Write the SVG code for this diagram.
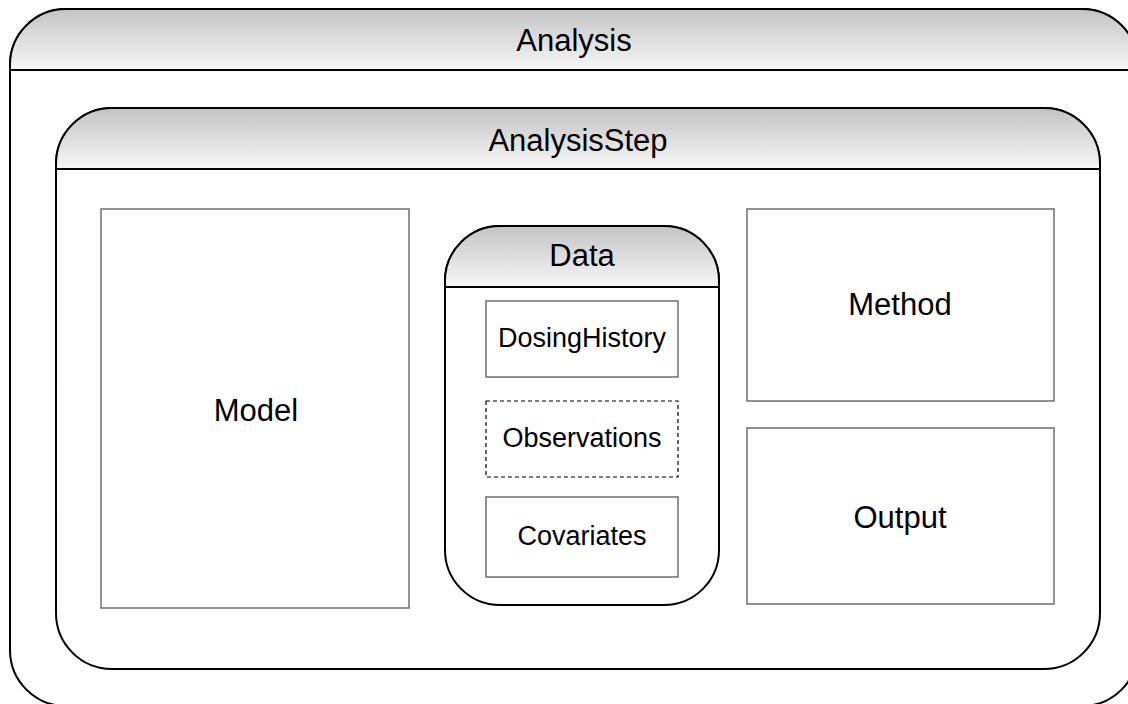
<svg xmlns="http://www.w3.org/2000/svg" width="1128" height="704" viewBox="0 0 1128 704">
  <defs>
    <linearGradient id="hdr" x1="0" y1="0" x2="0" y2="1">
      <stop offset="0" stop-color="#c4c4c4"/>
      <stop offset="1" stop-color="#f7f7f7"/>
    </linearGradient>
    <style>
      .frame { fill: #ffffff; stroke: #000000; stroke-width: 2; }
      .head { fill: url(#hdr); stroke: #000000; stroke-width: 2; }
      .line { stroke: #000000; stroke-width: 2; fill: none; }
      .box { fill: #ffffff; stroke: #6f6f6f; stroke-width: 1.5; }
      .dash { fill: #ffffff; stroke: #000000; stroke-width: 1.2; stroke-dasharray: 4 3; }
      .big { font-family: "Liberation Sans", Arial, sans-serif; font-size: 31px; fill: #000000; text-anchor: middle; }
      .small { font-family: "Liberation Sans", Arial, sans-serif; font-size: 27px; fill: #000000; text-anchor: middle; }
    </style>
  </defs>

  <!-- Analysis container -->
  <g id="analysis">
    <rect class="frame" x="10" y="9" width="1128" height="697" rx="56" ry="56"/>
    <path class="head" d="M10 70 V65 A56 56 0 0 1 66 9 H1082 A56 56 0 0 1 1138 65 V70 Z"/>
    <line class="line" x1="10" y1="70" x2="1138" y2="70"/>
    <text class="big" x="574" y="51">Analysis</text>
  </g>

  <!-- AnalysisStep container -->
  <g id="analysis-step">
    <rect class="frame" x="56" y="108" width="1044" height="561" rx="56" ry="56"/>
    <path class="head" d="M56 169 V164 A56 56 0 0 1 112 108 H1044 A56 56 0 0 1 1100 164 V169 Z"/>
    <line class="line" x1="56" y1="169" x2="1100" y2="169"/>
    <text class="big" x="578" y="151">AnalysisStep</text>
  </g>

  <g id="model">
    <rect class="box" x="101" y="209" width="308" height="399"/>
    <text class="big" x="256" y="421">Model</text>
  </g>

  <!-- Data container -->
  <g id="data">
    <rect class="frame" x="445" y="226" width="274" height="379" rx="55" ry="55"/>
    <path class="head" d="M445 287 V281 A55 55 0 0 1 500 226 H664 A55 55 0 0 1 719 281 V287 Z"/>
    <line class="line" x1="445" y1="287" x2="719" y2="287"/>
    <text class="big" x="582" y="266">Data</text>
  </g>

  <g id="dosing-history">
    <rect class="box" x="486" y="301" width="192" height="76"/>
    <text class="small" x="582" y="347">DosingHistory</text>
  </g>

  <g id="observations">
    <rect class="dash" x="486" y="401" width="192" height="76"/>
    <text class="small" x="582" y="447">Observations</text>
  </g>

  <g id="covariates">
    <rect class="box" x="486" y="497" width="192" height="80"/>
    <text class="small" x="582" y="545">Covariates</text>
  </g>

  <g id="method">
    <rect class="box" x="747" y="209" width="307" height="192"/>
    <text class="big" x="900" y="315">Method</text>
  </g>

  <g id="output">
    <rect class="box" x="747" y="428" width="307" height="176"/>
    <text class="big" x="900" y="528">Output</text>
  </g>

  <g id="connectors"/>
</svg>
